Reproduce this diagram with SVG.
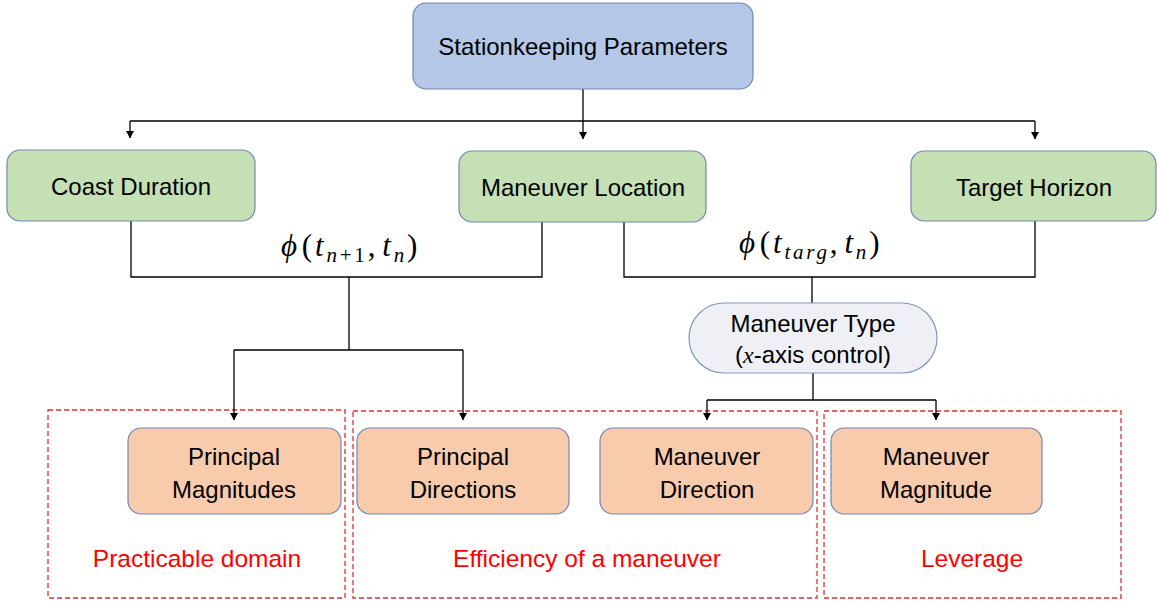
<svg xmlns="http://www.w3.org/2000/svg" width="1157" height="601" viewBox="0 0 1157 601">
<style>
.t{font-family:"Liberation Sans",Arial,sans-serif;font-size:24px;fill:#000;text-anchor:middle}
.r{font-family:"Liberation Sans",Arial,sans-serif;font-size:24.5px;fill:#ff0000;text-anchor:middle}
.m{font-family:"Liberation Serif","Times New Roman",serif;font-size:31px;fill:#000;letter-spacing:2.8px}
.i{font-style:italic}
.s{font-size:21px;font-style:italic}
.blue{fill:#b4c7e7;stroke:#7488b0;stroke-width:1.2}
.green{fill:#c5e0b4;stroke:#7488b0;stroke-width:1.2}
.orange{fill:#f8cbad;stroke:#7488b0;stroke-width:1.2}
.pill{fill:#eef0f5;stroke:#8397b8;stroke-width:1.2}
.dash{fill:none;stroke:#e03030;stroke-width:1.3;stroke-dasharray:5 3}
.ln{fill:none;stroke:#000;stroke-width:1.3}
</style>
<defs>
<marker id="ah" markerWidth="8" markerHeight="8" refX="4" refY="7" orient="0" markerUnits="userSpaceOnUse">
<path d="M0,0 L8,0 L4,8 Z" fill="#000" transform="scale(1,0.9)"/>
</marker>
</defs>
<g id="groups">
<rect id="g1" class="dash" x="48" y="410" width="297" height="188"/>
<rect id="g2" class="dash" x="353" y="411" width="464" height="187"/>
<rect id="g3" class="dash" x="824" y="411" width="297" height="187"/>
<text class="r" x="197" y="567">Practicable domain</text>
<text class="r" x="587" y="567">Efficiency of a maneuver</text>
<text class="r" x="972" y="567">Leverage</text>
</g>
<g id="connectors">
<path class="ln" d="M583,89 V121 M130,121 H1035"/>
<path class="ln" d="M130,121 V138" marker-end="url(#ah)"/>
<path class="ln" d="M583,121 V139" marker-end="url(#ah)"/>
<path class="ln" d="M1035,121 V139" marker-end="url(#ah)"/>
<path class="ln" d="M131,221 V277 H542 V222 M349,277 V350 M234,350 H463"/>
<path class="ln" d="M234,350 V420" marker-end="url(#ah)"/>
<path class="ln" d="M463,350 V420" marker-end="url(#ah)"/>
<path class="ln" d="M624,222 V277 H1035 V221 M812,277 V303 M813,373 V400 M707,400 H936"/>
<path class="ln" d="M707,400 V420" marker-end="url(#ah)"/>
<path class="ln" d="M936,400 V420" marker-end="url(#ah)"/>
<text class="m" x="281" y="256"><tspan class="i">ϕ</tspan><tspan dx="2">(</tspan><tspan class="i">t</tspan><tspan class="s" dy="6">n</tspan><tspan font-size="21px">+1</tspan><tspan dy="-6">,</tspan><tspan class="i" dx="4">t</tspan><tspan class="s" dy="6">n</tspan><tspan dy="-6">)</tspan></text>
<text class="m" x="739" y="253"><tspan class="i">ϕ</tspan><tspan dx="2">(</tspan><tspan class="i">t</tspan><tspan class="s" dy="6">targ</tspan><tspan dy="-6">,</tspan><tspan class="i" dx="4">t</tspan><tspan class="s" dy="6">n</tspan><tspan dy="-6">)</tspan></text>
</g>
<g id="stationkeeping">
<rect class="blue" x="413" y="3" width="340" height="86" rx="13"/>
<text class="t" x="583" y="55">Stationkeeping Parameters</text>
</g>
<g id="coast">
<rect class="green" x="7" y="150" width="248" height="71" rx="13"/>
<text class="t" x="131" y="195">Coast Duration</text>
</g>
<g id="location">
<rect class="green" x="459" y="151" width="247" height="71" rx="13"/>
<text class="t" x="583" y="196">Maneuver Location</text>
</g>
<g id="target">
<rect class="green" x="911" y="151" width="245" height="70" rx="13"/>
<text class="t" x="1034" y="196">Target Horizon</text>
</g>
<g id="mtype">
<rect class="pill" x="689" y="303" width="248" height="70" rx="35"/>
<text class="t" x="813" y="332">Maneuver Type</text>
<text class="t" x="813" y="363">(<tspan font-family="Liberation Serif,serif" font-style="italic">x</tspan>-axis control)</text>
</g>
<g id="pmag">
<rect class="orange" x="128" y="428" width="213" height="86" rx="13"/>
<text class="t" x="234" y="465">Principal</text>
<text class="t" x="234" y="498">Magnitudes</text>
</g>
<g id="pdir">
<rect class="orange" x="357" y="428" width="212" height="86" rx="13"/>
<text class="t" x="463" y="465">Principal</text>
<text class="t" x="463" y="498">Directions</text>
</g>
<g id="mdir">
<rect class="orange" x="600" y="428" width="213" height="86" rx="13"/>
<text class="t" x="707" y="465">Maneuver</text>
<text class="t" x="707" y="498">Direction</text>
</g>
<g id="mmag">
<rect class="orange" x="831" y="428" width="211" height="86" rx="13"/>
<text class="t" x="936" y="465">Maneuver</text>
<text class="t" x="936" y="498">Magnitude</text>
</g>
</svg>
